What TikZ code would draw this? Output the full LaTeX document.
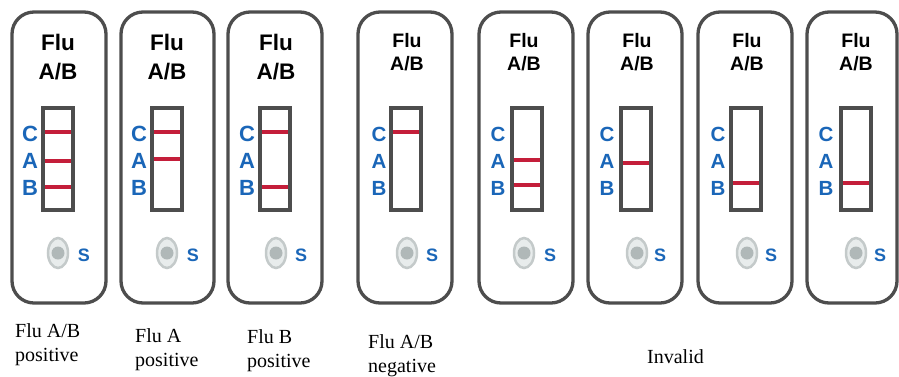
\documentclass[tikz,border=0pt]{standalone}
\usepackage{fontspec}
\usetikzlibrary{shapes.geometric}
\setmainfont{Liberation Serif}
\newfontfamily\lsans{Liberation Sans}
\definecolor{casegray}{HTML}{4D4D4D}
\definecolor{stripred}{HTML}{C41E3A}
\definecolor{letblue}{HTML}{1A66B8}
\definecolor{ovalrim}{HTML}{C4CACA}
\definecolor{ovalfill}{HTML}{E8ECEC}
\definecolor{ovaldot}{HTML}{B0B8B8}
\tikzset{
  cassline/.style={draw=casegray, line width=3.3pt, rounded corners=22pt, fill=white},
  winline/.style={draw=casegray, line width=3.3pt, fill=white},
  redline/.style={draw=stripred, line width=3.6pt},
  titleA/.style={font=\lsans\bfseries\fontsize{22.5}{29}\selectfont, align=center, inner sep=0pt, yshift=-1pt},
  titleB/.style={font=\lsans\bfseries\fontsize{19.5}{23.5}\selectfont, align=center, inner sep=0pt, yshift=4pt},
  lettA/.style={font=\lsans\bfseries\fontsize{22}{22}\selectfont, text=letblue, inner sep=0pt},
  lettB/.style={font=\lsans\bfseries\fontsize{20.5}{20.5}\selectfont, text=letblue, inner sep=0pt},
  sletter/.style={font=\lsans\bfseries\fontsize{18}{18}\selectfont, text=letblue, inner sep=0pt},
  ovalout/.style={ellipse, draw=ovalrim, line width=2.5pt, fill=ovalfill, minimum width=20pt, minimum height=30pt, inner sep=0pt},
  ovalin/.style={circle, fill=ovaldot, minimum size=13pt, inner sep=0pt},
  caption/.style={font=\fontsize{20}{24}\selectfont, align=left, anchor=west, inner sep=0pt}
}
% #1 id, #2 left, #3 right, #4 window left, #5 letter x, #6 oval/title x, #7 S x, #8 group A/B, #9 red line list
\newcommand{\mycass}[9]{%
  \draw[cassline] (#2,12) rectangle (#3,303);
  \node[title#8] (t#1) at (#6,56) {Flu\\A/B};
  \draw[winline] (#4,108) rectangle ({#4+30},210);
  \foreach \ly in {#9} {\draw[redline] ({#4+1.6},\ly) -- ({#4+28.4},\ly);}
  \node[lett#8] (c#1) at (#5,134) {C};
  \node[lett#8] (a#1) at (#5,161) {A};
  \node[lett#8] (b#1) at (#5,188) {B};
  \node[ovalout] (o#1) at (#6,253) {};
  \node[ovalin] (d#1) at (o#1) {};
  \node[sletter] (s#1) at (#7,255) {S};
}
\begin{document}
\begin{tikzpicture}[x=1pt,y=-1pt]
\useasboundingbox (0,0) rectangle (899,376);
\mycass{1}{12}{106}{43}{30}{58}{84}{A}{132,161,187}
\mycass{2}{121}{214}{152}{139}{167}{193}{A}{132,159}
\mycass{3}{228}{322}{260}{247}{276}{301}{A}{132,187}
\mycass{4}{358}{452}{391}{379}{407}{432}{B}{132}
\mycass{5}{479}{573}{512}{498}{524}{550}{B}{160,185}
\mycass{6}{588}{682}{621}{607}{637}{660}{B}{163}
\mycass{7}{698}{792}{731}{718}{747}{771}{B}{183}
\mycass{8}{807}{897}{841}{826}{856}{880}{B}{183}
\node[caption] (cap1) at (15,345) {Flu A/B\\positive};
\node[caption] (cap2) at (135,349.5) {Flu A\\positive};
\node[caption] (cap3) at (247,350.5) {Flu B\\positive};
\node[caption] (cap4) at (368,355.5) {Flu A/B\\negative};
\node[caption] (cap5) at (647,357) {Invalid};
\end{tikzpicture}
\end{document}
